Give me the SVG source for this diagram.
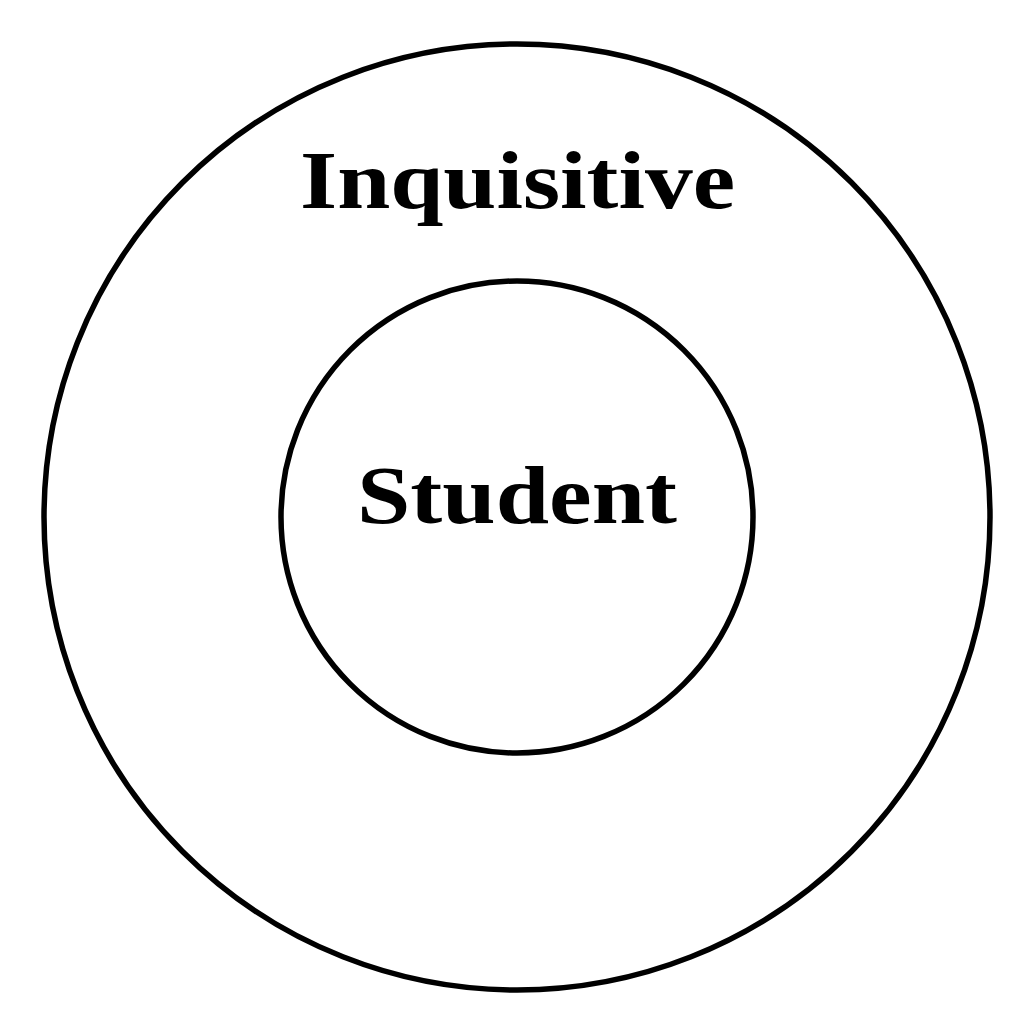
<svg xmlns="http://www.w3.org/2000/svg" width="1035" height="1035" viewBox="0 0 1035 1035">
<style>
.ring{fill:none;stroke:#000;stroke-width:5.5}
.lbl{font-family:"Liberation Serif","DejaVu Serif",serif;font-weight:bold;font-size:82px;fill:#000}
</style>
<rect width="1035" height="1035" fill="#fff"/>
<g id="outer">
<circle class="ring" cx="517" cy="517" r="473"/>
<text class="lbl" x="300" y="208" textLength="435" lengthAdjust="spacingAndGlyphs">Inquisitive</text>
</g>
<g id="inner">
<circle class="ring" cx="517" cy="517" r="236"/>
<text class="lbl" x="357" y="523" textLength="320" lengthAdjust="spacingAndGlyphs">Student</text>
</g>
<g id="connectors"/>
</svg>
